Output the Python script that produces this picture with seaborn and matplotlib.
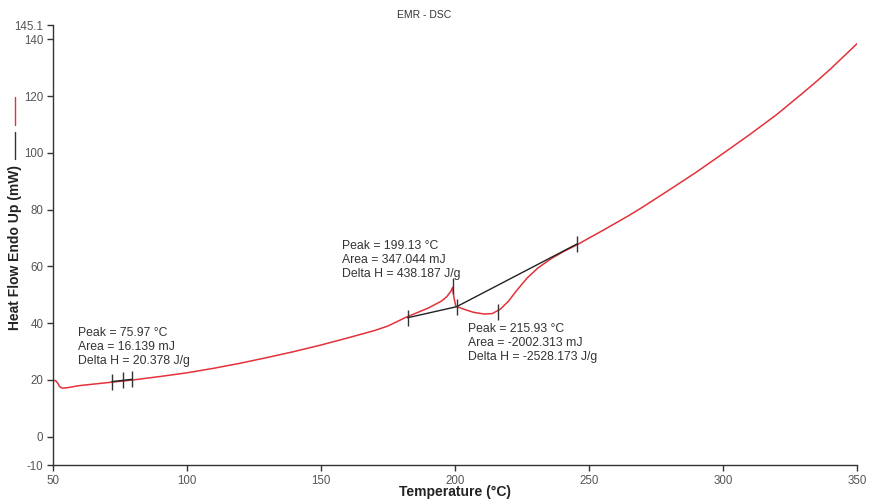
import matplotlib
matplotlib.use("Agg")
import matplotlib.pyplot as plt
from matplotlib.lines import Line2D
import seaborn as sns
import pandas as pd

# ---- data ----
temperature = [50, 51, 51.8, 52.5, 53.4, 55, 60, 70, 80, 90, 100, 110, 120, 130,
               140, 150, 160, 170, 175, 182, 190, 195, 197, 198.5, 199.1, 199.6,
               200.3, 203, 207, 211, 214, 217, 220, 223, 227, 231, 236, 241,
               245.5, 250, 255, 260, 265, 270, 280, 290, 300, 310, 320, 330,
               335, 340, 350]
heat_flow = [19.9, 19.7, 18.8, 17.6, 17.1, 17.2, 18.0, 19.0, 20.0, 21.2, 22.5,
             24.1, 25.9, 27.9, 30.0, 32.3, 34.8, 37.4, 39.0, 42.2, 45.3, 47.8,
             49.4, 51.3, 52.6, 49.0, 46.0, 45.0, 43.8, 43.2, 43.4, 45.0, 47.8,
             51.5, 56.0, 59.5, 62.8, 65.5, 67.6, 70.0, 72.6, 75.3, 78.0, 80.9,
             87.0, 93.2, 99.8, 106.5, 113.5, 121.3, 125.3, 129.5, 138.5]

# baseline segments (integration limits)
base1_T = [72.0, 79.5]
base1_HF = [19.4, 20.2]
base2_T = [182.3, 200.6, 245.7]
base2_HF = [41.9, 45.8, 68.0]

# event tick marks
mark_T = [72.0, 75.97, 79.5, 182.3, 199.13, 200.6, 215.93, 245.7]
mark_HF = [19.4, 19.8, 20.2, 41.9, 53.2, 45.6, 44.0, 68.0]

# annotations: (x, y_top, text)
annot_T = [59.3, 158.0, 204.9]
annot_HF = [38.6, 69.3, 39.9]
annot_text = ["Peak = 75.97 °C\nArea = 16.139 mJ\nDelta H = 20.378 J/g",
              "Peak = 199.13 °C\nArea = 347.044 mJ\nDelta H = 438.187 J/g",
              "Peak = 215.93 °C\nArea = -2002.313 mJ\nDelta H = -2528.173 J/g"]

x_ticks = [50, 100, 150, 200, 250, 300, 350]
y_ticks = [-10, 0, 20, 40, 60, 80, 100, 120, 140, 145.1]
y_ticklabels = ["-10", "0", "20", "40", "60", "80", "100", "120", "140", "145.1"]

sns.set_theme(style="white")
plt.rcParams["font.family"] = ["Liberation Sans", "DejaVu Sans"]

fig = plt.figure(figsize=(8.69, 5.0), dpi=100)
ax = fig.add_axes([53 / 869, 35 / 500, 804 / 869, 440 / 500])

df = pd.DataFrame({"Temperature": temperature, "HeatFlow": heat_flow})
sns.lineplot(data=df, x="Temperature", y="HeatFlow", ax=ax, color="#e3323a",
             linewidth=1.1, estimator=None, sort=False)

ax.plot(base1_T, base1_HF, color="#222222", linewidth=1.0)
ax.plot(base2_T, base2_HF, color="#222222", linewidth=1.0)
ax.plot(mark_T, mark_HF, linestyle="none", marker="|", markersize=12,
        markeredgewidth=1.0, color="#333333")

for t, h, s in zip(annot_T, annot_HF, annot_text):
    ax.text(t, h, s, ha="left", va="top", fontsize=8.8, color="#333333",
            linespacing=1.2)

ax.set_xlim(50, 350)
ax.set_ylim(-10, 145.1)
ax.set_xticks(x_ticks)
ax.set_yticks(y_ticks)
ax.set_yticklabels(y_ticklabels)

for side in ["top", "right"]:
    ax.spines[side].set_visible(False)
for side in ["left", "bottom"]:
    ax.spines[side].set_color("#333333")
    ax.spines[side].set_linewidth(1.0)
ax.tick_params(axis="both", which="both", direction="out", length=4, width=1,
               color="#333333", labelsize=8.3, labelcolor="#555555", pad=3,
               left=True, bottom=True)
ax.grid(False)

ax.set_xlabel("")
ax.set_ylabel("")
fig.text(455 / 869, 1 - 492 / 500, "Temperature (°C)", ha="center", va="center",
         fontsize=10, fontweight="bold", color="#222222")
fig.text(15 / 869, 1 - 248 / 500, "Heat Flow Endo Up (mW)", rotation=90,
         ha="center", va="center", fontsize=10, fontweight="bold", color="#222222")

# legend-like line swatches beside the y label
fig.add_artist(Line2D([15 / 869, 15 / 869], [1 - 97 / 500, 1 - 125 / 500],
                      color="#e3323a", linewidth=1.0, transform=fig.transFigure))
fig.add_artist(Line2D([15 / 869, 15 / 869], [1 - 132 / 500, 1 - 159 / 500],
                      color="#333333", linewidth=1.0, transform=fig.transFigure))

fig.text(424 / 869, 1 - 15 / 500, "EMR - DSC", ha="center", va="center",
         fontsize=7.5, color="#333333")

fig.savefig("out.png", dpi=100)
